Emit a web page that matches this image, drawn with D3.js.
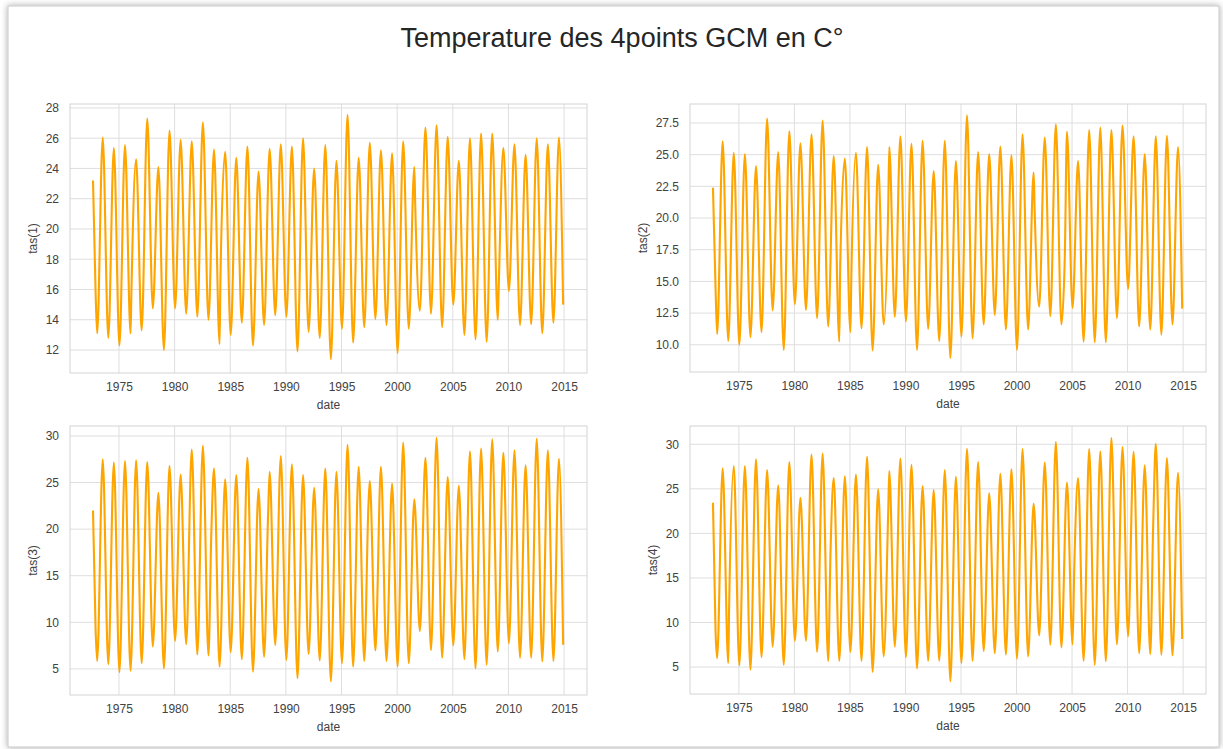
<!DOCTYPE html>
<html>
<head>
<meta charset="utf-8">
<script src="https://cdn.jsdelivr.net/npm/d3@7"></script>
<style>
  html, body { margin: 0; padding: 0; background: #ffffff; }
  svg { display: block; }
  text { font-family: "Liberation Sans", Arial, sans-serif; }
</style>
</head>
<body>
<svg id="chart" width="1223" height="749"></svg>
<script>
// ---------------- DATA ----------------
const chartTitle = "Temperature des 4points GCM en C°";
const xLabel = "date";
const xTickLabels = [1975, 1980, 1985, 1990, 1995, 2000, 2005, 2010, 2015];

// years with a January trough and a July peak
const years = [1973, 1974, 1975, 1976, 1977, 1978, 1979, 1980, 1981, 1982,
               1983, 1984, 1985, 1986, 1987, 1988, 1989, 1990, 1991, 1992,
               1993, 1994, 1995, 1996, 1997, 1998, 1999, 2000, 2001, 2002,
               2003, 2004, 2005, 2006, 2007, 2008, 2009, 2010, 2011, 2012,
               2013, 2014];

// tas(1)
const tas1Start = 23.2, tas1End = 15.0;
const tas1Troughs = [13.1, 12.8, 12.3, 13.1, 13.3, 14.75, 12.0, 14.75, 14.4, 14.2,
                     14.0, 12.4, 13.0, 13.8, 12.3, 13.65, 14.3, 14.2, 11.9, 13.2,
                     12.8, 11.4, 13.4, 12.5, 13.5, 14.05, 13.65, 11.8, 13.4, 14.6,
                     14.4, 13.5, 15.0, 13.0, 12.7, 12.55, 14.0, 15.9, 13.65, 13.7,
                     13.1, 13.8];
const tas1Peaks = [26.05, 25.35, 25.55, 24.6, 27.3, 24.1, 26.5, 25.9, 25.8, 27.05,
                   25.25, 25.1, 24.7, 25.45, 23.8, 25.3, 25.6, 25.45, 26.0, 24.0,
                   25.55, 24.5, 27.55, 24.7, 25.7, 25.2, 25.0, 25.8, 24.1, 26.7,
                   26.85, 26.1, 24.5, 26.0, 26.3, 26.3, 25.35, 25.6, 24.9, 26.0,
                   25.6, 26.05];
// small shoulders seen on the curve: [decimal year, value]
const tas1Extras = [[1972.9, 15.8], [1976.12, 15.9], [1984.12, 16.8], [2001.62, 21.7], [2009.12, 16.0]];

// tas(2)
const tas2Start = 22.4, tas2End = 12.85;
const tas2Troughs = [10.85, 10.3, 10.0, 10.6, 11.0, 12.7, 9.6, 13.2, 12.75, 12.1,
                     11.45, 10.25, 11.0, 11.3, 9.55, 11.6, 12.2, 11.85, 9.6, 11.25,
                     10.3, 8.95, 10.65, 10.5, 11.6, 12.35, 11.2, 9.6, 11.2, 13.0,
                     12.25, 11.6, 12.9, 10.25, 10.2, 10.2, 12.1, 14.4, 11.45, 11.2,
                     10.8, 11.6];
const tas2Peaks = [26.05, 25.15, 25.05, 24.1, 27.85, 25.2, 26.85, 25.9, 26.6, 27.7,
                   24.9, 24.7, 25.15, 25.6, 24.2, 25.6, 26.45, 25.85, 26.1, 23.7,
                   26.1, 24.5, 28.1, 25.2, 25.05, 25.65, 24.95, 26.6, 23.6, 26.35,
                   27.4, 26.8, 24.5, 26.95, 27.15, 26.95, 27.3, 26.45, 25.05, 26.45,
                   26.5, 25.6];
const tas2Extras = [[1972.9, 14.5], [1984.12, 16.0], [1985.12, 15.0], [1988.45, 21.0], [2001.62, 21.0], [2004.35, 17.1]];

// tas(3)
const tas3Start = 22.0, tas3End = 7.6;
const tas3Troughs = [5.85, 5.5, 4.65, 4.8, 5.6, 7.4, 5.05, 8.0, 7.65, 6.55,
                     6.45, 5.25, 6.8, 6.05, 4.7, 6.3, 7.55, 5.95, 4.0, 6.6,
                     5.9, 3.65, 5.6, 5.25, 5.85, 7.0, 5.85, 5.25, 5.6, 9.05,
                     7.0, 6.2, 7.55, 6.05, 5.05, 5.45, 6.85, 7.75, 6.2, 6.2,
                     5.8, 5.85];
const tas3Peaks = [27.5, 27.15, 27.3, 27.4, 27.2, 23.9, 26.8, 25.85, 28.55, 28.95,
                   26.5, 25.35, 25.8, 27.65, 24.3, 26.15, 27.85, 26.95, 25.8, 24.45,
                   26.5, 26.15, 29.05, 26.7, 25.15, 26.7, 24.9, 29.3, 23.2, 27.65,
                   29.8, 25.6, 24.65, 28.35, 28.65, 29.65, 28.2, 28.45, 26.85, 29.7,
                   28.45, 27.55];
const tas3Extras = [[1972.9, 9.2], [1983.3, 19.6], [1988.4, 21.5], [1997.42, 22.6], [1998.12, 8.6]];

// tas(4)
const tas4Start = 23.45, tas4End = 8.15;
const tas4Troughs = [6.0, 5.45, 5.2, 4.7, 6.1, 7.3, 5.25, 7.95, 7.95, 6.7,
                     5.7, 5.7, 6.7, 5.7, 4.45, 6.2, 7.3, 6.1, 4.85, 5.7,
                     5.7, 3.4, 5.45, 5.7, 6.8, 6.55, 6.4, 5.95, 6.2, 8.55,
                     7.5, 7.2, 7.55, 5.7, 5.25, 5.65, 7.55, 8.45, 6.55, 6.45,
                     6.4, 6.3];
const tas4Peaks = [27.3, 27.55, 27.55, 28.3, 27.1, 25.4, 28.0, 24.0, 28.85, 28.95,
                   26.2, 26.4, 26.6, 28.6, 24.95, 27.0, 28.4, 27.7, 25.3, 24.85,
                   27.1, 26.35, 29.5, 28.0, 24.5, 26.7, 27.2, 29.45, 23.35, 27.95,
                   30.25, 25.7, 26.2, 29.45, 29.2, 30.7, 29.7, 29.15, 27.65, 30.05,
                   28.45, 26.8];
const tas4Extras = [[1972.9, 9.0], [1974.12, 11.5], [1983.25, 17.8], [1988.45, 22.6], [2005.2, 16.2], [2012.3, 20.7]];

const tas1Ticks = [12, 14, 16, 18, 20, 22, 24, 26, 28];
const tas2Ticks = [10.0, 12.5, 15.0, 17.5, 20.0, 22.5, 25.0, 27.5];
const tas3Ticks = [5, 10, 15, 20, 25, 30];
const tas4Ticks = [5, 10, 15, 20, 25, 30];

// ---------------- LAYOUT ----------------
const W = 1223, H = 749;
const xDomain = [1970.6, 2017.06];
const panels = [
  { label: "tas(1)", start: tas1Start, end: tas1End, troughs: tas1Troughs, peaks: tas1Peaks, extras: tas1Extras,
    ticks: tas1Ticks, fmt: d3.format("d"),  yDomain: [10.48, 28.26], box: [70, 104, 587, 373] },
  { label: "tas(2)", start: tas2Start, end: tas2End, troughs: tas2Troughs, peaks: tas2Peaks, extras: tas2Extras,
    ticks: tas2Ticks, fmt: d3.format(".1f"), yDomain: [7.85, 29.0],  box: [690, 104, 1206, 372] },
  { label: "tas(3)", start: tas3Start, end: tas3End, troughs: tas3Troughs, peaks: tas3Peaks, extras: tas3Extras,
    ticks: tas3Ticks, fmt: d3.format("d"),  yDomain: [2.2, 31.07],  box: [70, 426, 587, 695] },
  { label: "tas(4)", start: tas4Start, end: tas4End, troughs: tas4Troughs, peaks: tas4Peaks, extras: tas4Extras,
    ticks: tas4Ticks, fmt: d3.format("d"),  yDomain: [1.98, 32.05], box: [690, 426, 1206, 694] }
];

const svg = d3.select("#chart");

// frame with shadow
const defs = svg.append("defs");
const f = defs.append("filter").attr("id", "shadow")
  .attr("x", "-5%").attr("y", "-5%").attr("width", "110%").attr("height", "110%");
f.append("feDropShadow").attr("dx", 0).attr("dy", 0).attr("stdDeviation", 3)
  .attr("flood-color", "#000").attr("flood-opacity", 0.35);

svg.append("rect").attr("width", W).attr("height", H).attr("fill", "#ffffff");
svg.append("rect")
  .attr("x", 8).attr("y", 6).attr("width", 1211).attr("height", 741)
  .attr("fill", "#ffffff").attr("stroke", "#c8c8c8").attr("stroke-width", 1)
  .attr("filter", "url(#shadow)");

svg.append("text")
  .attr("x", 622).attr("y", 47)
  .attr("text-anchor", "middle")
  .attr("font-size", 27)
  .attr("fill", "#262626")
  .text(chartTitle);

function buildSeries(p) {
  const pts = [{ t: 1972 + 8 / 12, v: p.start }];
  years.forEach((y, i) => {
    pts.push({ t: y + 0.5 / 12, v: p.troughs[i] });
    pts.push({ t: y + 6.5 / 12, v: p.peaks[i] });
  });
  pts.push({ t: 2014 + 11 / 12, v: p.end });
  p.extras.forEach(e => pts.push({ t: e[0], v: e[1] }));
  pts.sort((a, b) => a.t - b.t);
  return pts;
}

panels.forEach(p => {
  const [x0, y0, x1, y1] = p.box;
  const x = d3.scaleLinear().domain(xDomain).range([x0, x1]);
  const y = d3.scaleLinear().domain(p.yDomain).range([y1, y0]);
  const g = svg.append("g");

  // grid
  g.append("g").selectAll("line").data(p.ticks).join("line")
    .attr("x1", x0).attr("x2", x1)
    .attr("y1", d => y(d)).attr("y2", d => y(d))
    .attr("stroke", "#dedede").attr("stroke-width", 1);
  g.append("g").selectAll("line").data(xTickLabels).join("line")
    .attr("y1", y0).attr("y2", y1)
    .attr("x1", d => x(d)).attr("x2", d => x(d))
    .attr("stroke", "#dedede").attr("stroke-width", 1);

  // spines
  g.append("rect").attr("x", x0).attr("y", y0)
    .attr("width", x1 - x0).attr("height", y1 - y0)
    .attr("fill", "none").attr("stroke", "#d4d4d4").attr("stroke-width", 1);

  // axes
  const ax = g.append("g").attr("transform", `translate(0,${y1})`)
    .call(d3.axisBottom(x).tickValues(xTickLabels).tickFormat(d3.format("d"))
      .tickSize(0).tickPadding(9));
  const ay = g.append("g").attr("transform", `translate(${x0},0)`)
    .call(d3.axisLeft(y).tickValues(p.ticks).tickFormat(p.fmt)
      .tickSize(0).tickPadding(11));
  [ax, ay].forEach(a => {
    a.select(".domain").remove();
    a.selectAll("text").attr("font-size", 12).attr("fill", "#424242")
      .attr("font-family", '"Liberation Sans", Arial, sans-serif');
  });

  // line
  const line = d3.line().curve(d3.curveMonotoneX).x(d => x(d.t)).y(d => y(d.v));
  g.append("path").datum(buildSeries(p))
    .attr("fill", "none").attr("stroke", "#ffa500")
    .attr("stroke-width", 2.1).attr("stroke-linejoin", "round")
    .attr("d", line);

  // labels
  g.append("text")
    .attr("x", (x0 + x1) / 2).attr("y", y1 + 36)
    .attr("text-anchor", "middle").attr("font-size", 12).attr("fill", "#424242")
    .text(xLabel);
  const bb = ay.node().getBBox();
  const lx = x0 + bb.x - 13;
  g.append("text")
    .attr("transform", `translate(${lx},${(y0 + y1) / 2}) rotate(-90)`)
    .attr("text-anchor", "middle").attr("dy", "0.35em")
    .attr("font-size", 12).attr("fill", "#424242")
    .text(p.label);
});
</script>
</body>
</html>
